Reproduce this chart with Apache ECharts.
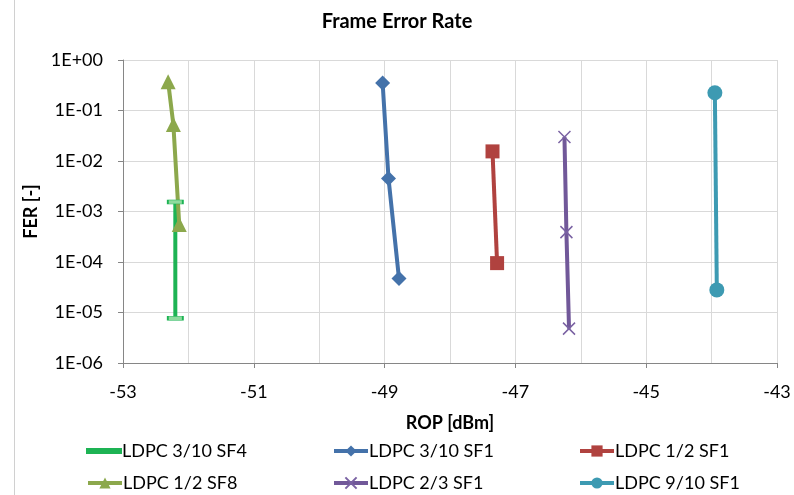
<!DOCTYPE html>
<html>
<head>
<meta charset="utf-8">
<script src="https://cdn.jsdelivr.net/npm/echarts@6/dist/echarts.min.js"></script>
<style>
html,body{margin:0;padding:0;background:#fff;}
#chart{width:794px;height:495px;}
</style>
</head>
<body>
<div id="chart"></div>
<script>
// ---- data ----
const titleText = 'Frame Error Rate';
const xName = 'ROP [dBm]';
const yName = 'FER [-]';
const seriesNames = ['LDPC 3/10 SF4','LDPC 3/10 SF1','LDPC 1/2 SF1','LDPC 1/2 SF8','LDPC 2/3 SF1','LDPC 9/10 SF1'];

const sf4_3_10_x = [-52.2, -52.2];
const sf4_3_10_y = [1.55e-3, 7.7e-6];

const sf1_3_10_x = [-49.03, -48.94, -48.78];
const sf1_3_10_y = [0.35, 4.5e-3, 4.7e-5];

const sf1_1_2_x = [-47.35, -47.28];
const sf1_1_2_y = [0.0155, 9.5e-5];

const sf8_1_2_x = [-52.31, -52.23, -52.14];
const sf8_1_2_y = [0.37, 0.053, 5.5e-4];

const sf1_2_3_x = [-46.25, -46.22, -46.18];
const sf1_2_3_y = [0.030, 3.9e-4, 4.8e-6];

const sf1_9_10_x = [-43.95, -43.92];
const sf1_9_10_y = [0.225, 2.8e-5];

const xTicks = [-53, -51, -49, -47, -45, -43];

// ---- build ----
const zip = (xs, ys) => xs.map((x, i) => [x, ys[i]]);
const FONT = 'Lato';
const colors = ['#1DB354', '#4472AA', '#B0423F', '#8CA84C', '#715899', '#3D9AB2'];

function mk(name, xs, ys, color, symbol, size, extra) {
  return Object.assign({
    name: name, type: 'line', data: zip(xs, ys),
    symbol: symbol, symbolSize: size,
    lineStyle: { color: color, width: 4 },
    itemStyle: { color: color },
    emphasis: { disabled: true },
    z: 3
  }, extra || {});
}

const series = [
  mk(seriesNames[0], sf4_3_10_x, sf4_3_10_y, colors[0], 'rect', [15, 4],
     { itemStyle: { color: '#8EDB9E', borderColor: '#1DB354', borderWidth: 1 } }),
  mk(seriesNames[1], sf1_3_10_x, sf1_3_10_y, colors[1], 'diamond', 15),
  mk(seriesNames[2], sf1_1_2_x, sf1_1_2_y, colors[2], 'rect', 14),
  mk(seriesNames[3], sf8_1_2_x, sf8_1_2_y, colors[3], 'triangle', 15),
  mk(seriesNames[4], sf1_2_3_x, sf1_2_3_y, colors[4], 'path://M0,0L10,10M10,0L0,10', 12,
     { itemStyle: { color: 'rgba(0,0,0,0)', borderColor: '#7A62A3', borderWidth: 1.5 } }),
  mk(seriesNames[5], sf1_9_10_x, sf1_9_10_y, colors[5], 'circle', 15)
];

const legendCols = [86, 332, 578];
const legendRows = [442, 474];
const legends = seriesNames.map((nm, k) => {
  const lg = {
    data: [nm],
    left: legendCols[k % 3],
    top: legendRows[Math.floor(k / 3)],
    padding: 0,
    itemWidth: 34,
    itemHeight: 14,
    itemGap: 2,
    selectedMode: false,
    lineStyle: { width: 4 },
    textStyle: { fontFamily: FONT, fontSize: 18, color: '#000', padding: [0, 0, 0, -4] }
  };
  if (k === 0) {
    lg.data = [{ name: nm, icon: 'path://M0,5H34V9H0Z', itemStyle: { color: colors[0] } }];
  }
  return lg;
});

const chart = echarts.init(document.getElementById('chart'), null, { renderer: 'canvas' });
chart.setOption({
  animation: false,
  backgroundColor: '#fff',
  title: {
    text: titleText, left: 'center', top: 7,
    textStyle: { fontFamily: FONT, fontSize: 20, fontWeight: 'bold', color: '#000' }
  },
  graphic: [{
    type: 'line', shape: { x1: 14.5, y1: 0, x2: 14.5, y2: 495 },
    style: { stroke: '#D0D0D0', lineWidth: 1 }, silent: true
  }],
  legend: legends,
  grid: { left: 123, right: 17, top: 60, bottom: 132, containLabel: false },
  xAxis: {
    type: 'value', min: -53, max: -43, interval: 2,
    name: xName, nameLocation: 'middle', nameGap: 51,
    nameTextStyle: { fontFamily: FONT, fontSize: 18, fontWeight: 'bold', color: '#000' },
    axisLine: { show: true, onZero: false, lineStyle: { color: '#868686', width: 1 } },
    axisTick: { show: true, inside: false, length: 5, lineStyle: { color: '#868686' } },
    axisLabel: {
      fontFamily: FONT, fontSize: 18, color: '#000', margin: 20,
      formatter: v => (xTicks.indexOf(v) >= 0 ? String(v) : '')
    },
    splitLine: { show: true, lineStyle: { color: '#D9D9D9', width: 1 } },
    minorTick: { show: false, splitNumber: 2 },
    minorSplitLine: { show: true, lineStyle: { color: '#D9D9D9', width: 1 } }
  },
  yAxis: {
    type: 'log', logBase: 10, min: 1e-6, max: 1,
    name: yName, nameLocation: 'middle', nameGap: 81, nameRotate: 90,
    nameTextStyle: { fontFamily: FONT, fontSize: 18, fontWeight: 'bold', color: '#000' },
    axisLine: { show: true, lineStyle: { color: '#868686', width: 1 } },
    axisTick: { show: true, inside: false, length: 5, lineStyle: { color: '#868686' } },
    axisLabel: {
      fontFamily: FONT, fontSize: 18, color: '#000', margin: 20,
      formatter: v => {
        const e = Math.round(Math.log10(v));
        const a = Math.abs(e);
        return '1E' + (e >= 0 ? '+' : '-') + (a < 10 ? '0' + a : a);
      }
    },
    splitLine: { show: true, lineStyle: { color: '#D9D9D9', width: 1 } }
  },
  series: series
});
</script>
</body>
</html>
